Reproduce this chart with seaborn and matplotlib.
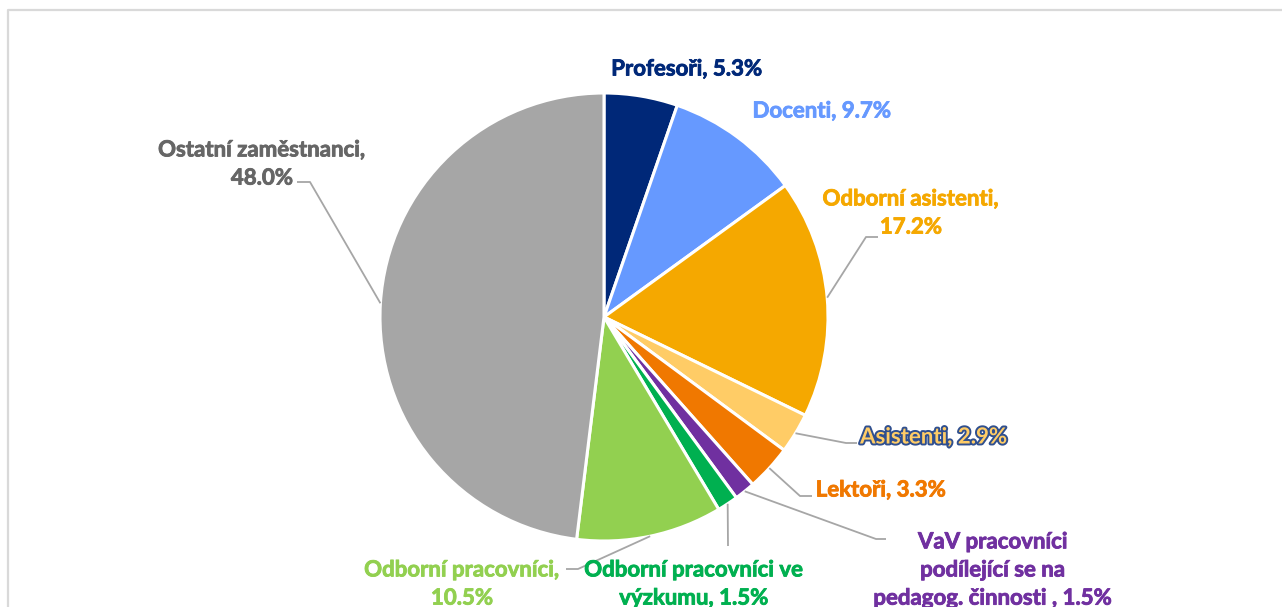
import numpy as np
import matplotlib.pyplot as plt
import matplotlib.patheffects as pe
import seaborn as sns

# -------------------------------
# Data
# -------------------------------

kategorie = ["Profesoři", "Docenti", "Odborní asistenti", "Asistenti", "Lektoři",
             "VaV pracovníci podílející se na pedagog. činnosti",
             "Odborní pracovníci ve výzkumu", "Odborní pracovníci",
             "Ostatní zaměstnanci"]
podily = [5.3, 9.7, 17.2, 2.9, 3.3, 1.5, 1.5, 10.5, 48.0]
popisky = ["Profesoři, 5.3%",
           "Docenti, 9.7%",
           "Odborní asistenti,\n17.2%",
           "Asistenti, 2.9%",
           "Lektoři, 3.3%",
           "VaV pracovníci\npodílející se na\npedagog. činnosti , 1.5%",
           "Odborní pracovníci ve\nvýzkumu, 1.5%",
           "Odborní pracovníci,\n10.5%",
           "Ostatní zaměstnanci,\n48.0%"]
barvy = ["#002878", "#6699FF", "#F5A800", "#FFCC66", "#F07800",
         "#7030A0", "#00B050", "#92D050", "#A6A6A6"]
barvy_textu = ["#002878", "#6699FF", "#F5A800", "#FFCC66", "#F07800",
               "#7030A0", "#00B050", "#92D050", "#666666"]

# label positions (pixels, y from top) and leader line elbows
pozice = [(687, 69), (822, 111), (911, 213), (934, 437), (881, 490),
          (993, 570), (694, 584), (462, 584), (262, 164)]
vodici = [None, None,
          [(866, 237), (878, 237)],
          [(846, 443), (857, 443)],
          [(800, 496), (812, 496)],
          [(876, 539), (886, 539)],
          [(728, 546)],
          [(578, 569), (566, 569)],
          [(310, 182), (297, 182)]]

W, H = 1282, 607
CX, CY, R = 604, 317, 224

sns.set_theme(style="white")
plt.rcParams['font.family'] = ['Lato', 'DejaVu Sans']

fig = plt.figure(figsize=(W / 100, H / 100), dpi=100)
ax = fig.add_axes([0, 0, 1, 1])

wedges, _ = ax.pie(podily, colors=barvy, startangle=90, counterclock=False,
                   center=(CX, H - CY), radius=R,
                   wedgeprops=dict(edgecolor="white", linewidth=2.2))

ax.set_xlim(0, W)
ax.set_ylim(0, H)
ax.set_aspect("equal")
ax.axis("off")

# outer frame (cut by the image edge)
ax.plot([8, 8, W + 5], [-5, H - 10, H - 10], color="#D9D9D9", lw=1.6,
        clip_on=False)

for w, text, pos, barva, ved in zip(wedges, popisky, pozice, barvy_textu, vodici):
    if ved is not None:
        uhel = np.deg2rad((w.theta1 + w.theta2) / 2)
        xs = [CX + R * np.cos(uhel)] + [p[0] for p in ved]
        ys = [(H - CY) + R * np.sin(uhel)] + [H - p[1] for p in ved]
        ax.plot(xs, ys, color="#A6A6A6", lw=1.3, solid_capstyle="butt")
    efekt = [pe.withStroke(linewidth=0.6, foreground=barva)]
    if text.startswith("Asistenti"):
        efekt = [pe.withStroke(linewidth=2.8, foreground="#2F4F8F")]
    ax.text(pos[0], H - pos[1], text, color=barva, fontsize=16,
            fontweight="bold", ha="center", va="center", linespacing=1.42,
            path_effects=efekt)

fig.savefig("out.png", dpi=100)
